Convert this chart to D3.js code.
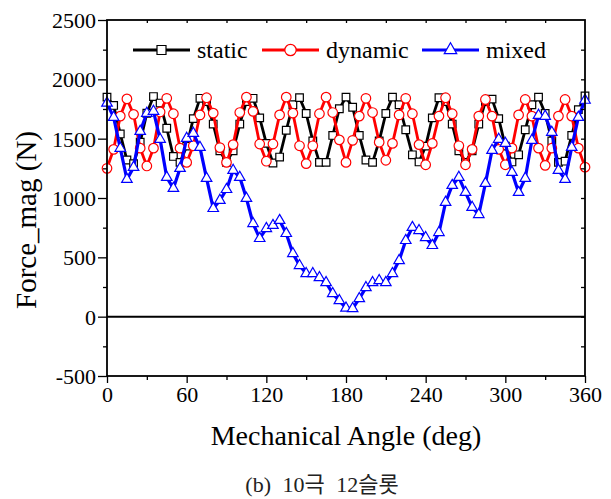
<!DOCTYPE html>
<html>
<head>
<meta charset="utf-8">
<script src="https://cdn.jsdelivr.net/npm/d3@7"></script>
<style>
	html, body { margin:0; padding:0; background:#fff; }
	svg { display:block; }
</style>
</head>
<body>
<svg id="chart" width="611" height="499"></svg>
<script>
// Mechanical angle (deg), one sample every 5 deg
const angles = [0,5,10,15,20,25,30,35,40,45,50,55,60,65,70,75,80,85,90,95,100,105,110,115,120,
	125,130,135,140,145,150,155,160,165,170,175,180,185,190,195,200,205,210,215,220,225,230,235,240,
	245,250,255,260,265,270,275,280,285,290,295,300,305,310,315,320,325,330,335,340,345,350,355,360];

// Force magnitude (N)
const staticForce = [1850,1780,1540,1320,1290,1470,1714,1855,1800,1588,1350,1300,1437,1669,1840,1813,1623,1398,1300,1398,
	1623,1813,1840,1675,1460,1295,1345,1571,1786,1846,1712,1481,1300,1300,1527,1752,1850,1765,1527,1320,1300,1481,
	1712,1850,1786,1575,1364,1304,1437,1675,1845,1813,1623,1398,1300,1398,1623,1813,1833,1669,1437,1304,1364,1575,
	1786,1850,1712,1481,1300,1310,1527,1745,1860];

const dynamicForce = [1250,1410,1690,1835,1705,1420,1270,1420,1725,1840,1710,1420,1300,1440,1700,1845,1715,1425,1300,1450,
	1720,1850,1730,1455,1310,1455,1700,1850,1715,1440,1290,1440,1710,1850,1720,1490,1300,1486,1690,1840,1720,1470,
	1318,1460,1700,1840,1710,1450,1280,1460,1690,1845,1710,1440,1280,1410,1690,1830,1690,1410,1280,1420,1700,1830,
	1690,1420,1275,1420,1690,1830,1690,1420,1260];

const mixedForce = [1800,1680,1419,1157,1258,1562,1714,1731,1495,1174,1081,1250,1503,1545,1427,1166,912,980,1072,1233,
	1174,997,785,659,743,769,811,701,532,431,363,363,329,287,194,135,72,68,152,245,287,304,287,363,473,642,752,726,
	667,600,709,963,1106,1174,1047,921,861,1123,1402,1495,1461,1216,1047,1166,1486,1697,1689,1554,1233,1157,1427,
	1680,1824];

const seriesNames = ['static','dynamic','mixed'];
const seriesValues = [staticForce, dynamicForce, mixedForce];
const seriesColors = ['#000000','#ff0000','#0000ff'];
const seriesSymbols = [d3.symbolSquare, d3.symbolCircle, d3.symbolTriangle];
const symbolSizes = [58, 72, 48];

const xTicks = [0,60,120,180,240,300,360];
const yTicks = [-500,0,500,1000,1500,2000,2500];
const captionText = '(b) 10극 12슬롯';

const SERIF = "'Liberation Serif', 'Times New Roman', serif";

const svg = d3.select('#chart');
const margin = {top:20, right:26, bottom:123, left:107};
const W = +svg.attr('width');
const H = +svg.attr('height');
const innerWidth = W - margin.left - margin.right;
const innerHeight = H - margin.top - margin.bottom;

const xScale = d3.scaleLinear().domain([0,360]).range([0,innerWidth]);
const yScale = d3.scaleLinear().domain([-500,2500]).range([innerHeight,0]);

const g = svg.append('g')
	.attr('transform',`translate(${margin.left},${margin.top})`);

// zero line
g.append('line')
	.attr('x1',0).attr('x2',innerWidth)
	.attr('y1',yScale(0)).attr('y2',yScale(0))
	.attr('stroke','#000').attr('stroke-width',2);

// series: line then markers, drawn static -> dynamic -> mixed
seriesValues.forEach((vals,i) => {
	const pts = angles.map((a,k) => ({a:a, v:vals[k]}));
	const line = d3.line().x(d=>xScale(d.a)).y(d=>yScale(d.v));
	g.append('path')
		.attr('d', line(pts))
		.attr('fill','none')
		.attr('stroke',seriesColors[i])
		.attr('stroke-width', i===2 ? 3.2 : 2.8)
		.attr('stroke-linejoin','round');
	g.selectAll('.mk'+i).data(pts).enter().append('path')
		.attr('class','mk'+i)
		.attr('transform',d=>`translate(${xScale(d.a)},${yScale(d.v)})`)
		.attr('d', d3.symbol().type(seriesSymbols[i]).size(symbolSizes[i]))
		.attr('fill','#fff')
		.attr('stroke',seriesColors[i])
		.attr('stroke-width',1.2);
});

// axes (bottom / left with labels, top / right only small ticks)
const fmt = d => String(d); // plain hyphen for -500
const xAxis = d3.axisBottom(xScale).tickValues(xTicks).tickSize(7).tickPadding(3).tickFormat(fmt);
const xAxisG = g.append('g').attr('transform',`translate(0,${innerHeight})`).call(xAxis);
const xMinor = d3.axisBottom(xScale).tickValues([30,90,150,210,270,330]).tickSize(4).tickFormat('');
g.append('g').attr('transform',`translate(0,${innerHeight})`).call(xMinor);

const yAxis = d3.axisLeft(yScale).tickValues(yTicks).tickSize(9).tickPadding(2).tickFormat(fmt);
const yAxisG = g.append('g').call(yAxis);
const yMinor = d3.axisLeft(yScale).tickValues([-250,250,750,1250,1750,2250]).tickSize(4).tickFormat('');
g.append('g').call(yMinor);

const xTop = d3.axisTop(xScale).tickValues([30,60,90,120,150,180,210,240,270,300,330]).tickSize(-3).tickFormat('');
g.append('g').call(xTop);
const yRight = d3.axisRight(yScale).tickValues([-250,0,250,500,750,1000,1250,1500,1750,2000,2250]).tickSize(-4).tickFormat('');
g.append('g').attr('transform',`translate(${innerWidth},0)`).call(yRight);

g.selectAll('.domain').remove();
g.selectAll('.tick line').attr('stroke','#000').attr('stroke-width',1.3);
[xAxisG, yAxisG].forEach(ax => ax.attr('font-size',22).attr('font-family',SERIF));
g.selectAll('.tick text').attr('fill','#000');
yAxisG.selectAll('text').attr('dy','0.34em');

// frame
g.append('rect')
	.attr('x',0).attr('y',0)
	.attr('width',innerWidth).attr('height',innerHeight)
	.attr('fill','none').attr('stroke','#000').attr('stroke-width',1.8);

// axis titles
g.append('text')
	.attr('font-family',SERIF).attr('font-size',28)
	.attr('x',innerWidth/2)
	.attr('y',innerHeight+69)
	.attr('text-anchor','middle')
	.text('Mechanical Angle (deg)');

g.append('text')
	.attr('font-family',SERIF).attr('font-size',29)
	.attr('transform',`translate(${36-margin.left},${220-margin.top})rotate(-90)`)
	.attr('text-anchor','middle')
	.text('Force_mag (N)');

// legend
const legendX = [133, 262, 422];
const legend = g.append('g').attr('transform',`translate(0,${50-margin.top})`);
seriesNames.forEach((name,i) => {
	const x0 = legendX[i]-margin.left;
	legend.append('line')
		.attr('x1',x0).attr('x2',x0+57).attr('y1',0).attr('y2',0)
		.attr('stroke',seriesColors[i]).attr('stroke-width',i===2 ? 3.2 : 2.8);
	legend.append('path')
		.attr('transform',`translate(${x0+28.5},0)`)
		.attr('d', d3.symbol().type(seriesSymbols[i]).size(symbolSizes[i]*1.4))
		.attr('fill','#fff').attr('stroke',seriesColors[i]).attr('stroke-width',1.2);
	legend.append('text')
		.attr('font-family',SERIF).attr('font-size',24)
		.attr('x',x0+64).attr('y',8)
		.text(name);
});

// caption
svg.append('text')
	.attr('font-family',"'Liberation Serif', 'Noto Sans CJK KR', serif")
	.attr('font-size',22)
	.attr('fill','#222')
	.attr('x',322).attr('y',492)
	.attr('text-anchor','middle')
	.attr('word-spacing',6)
	.text(captionText);
</script>
</body>
</html>
